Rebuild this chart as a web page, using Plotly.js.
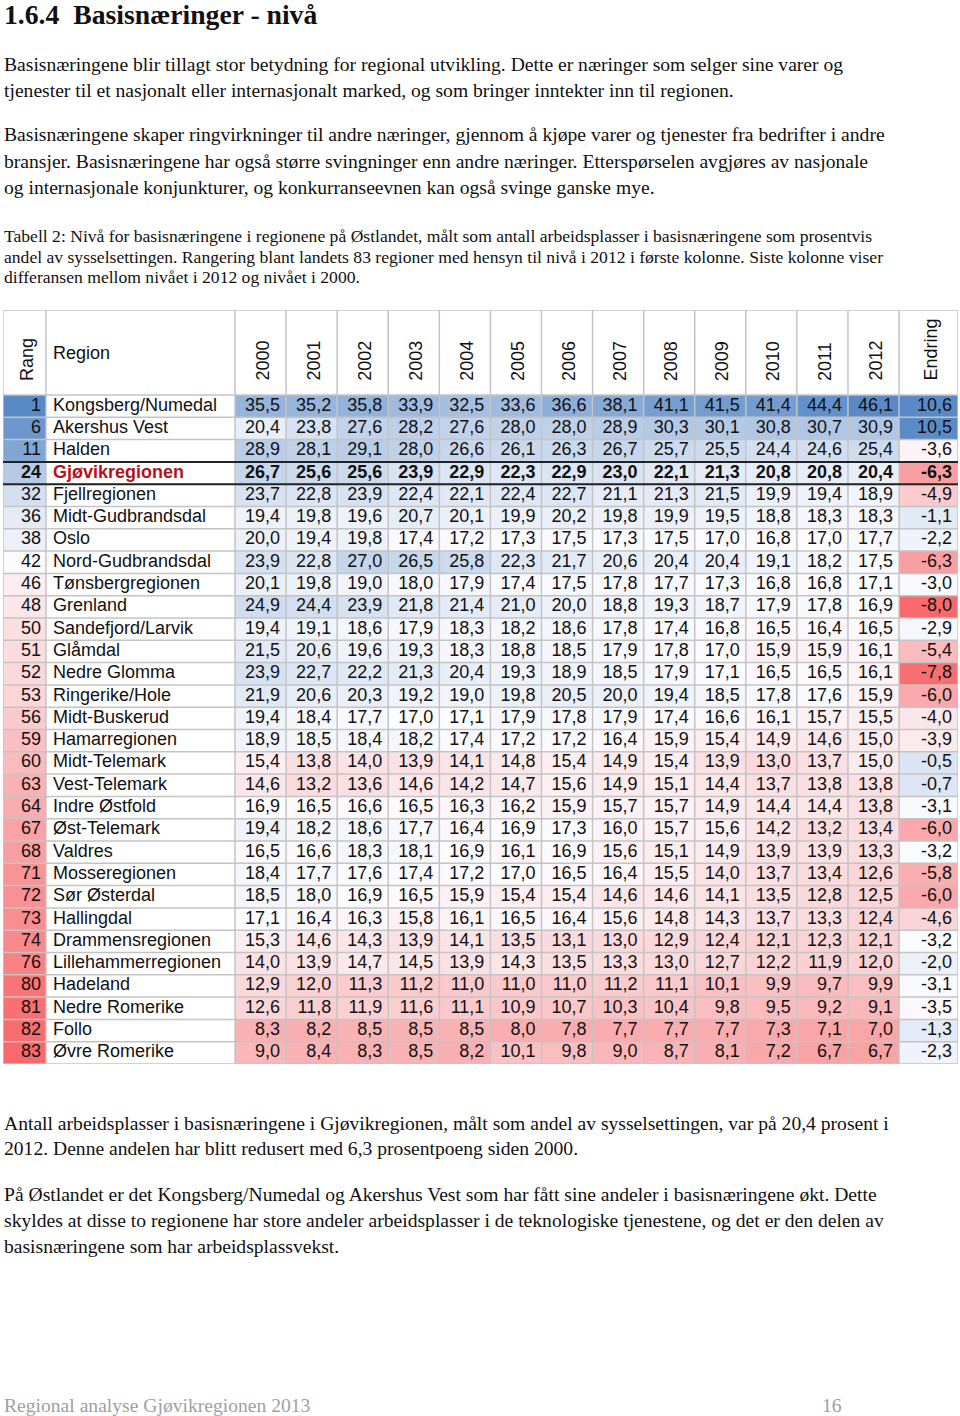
<!DOCTYPE html>
<html><head><meta charset="utf-8">
<script src="https://cdn.plot.ly/plotly-3.0.1.min.js"></script>
<style>html,body{margin:0;padding:0;background:#fff}#chart{width:960px;height:1416px}</style>
</head><body><div id="chart"></div>
<script>
// ---------------- DATA ----------------
const ranks = [1,6,11,24,32,36,38,42,46,48,50,51,52,53,56,59,60,63,64,67,68,71,72,73,74,76,80,81,82,83];
const regions = ['Kongsberg/Numedal','Akershus Vest','Halden','Gjøvikregionen','Fjellregionen','Midt-Gudbrandsdal','Oslo','Nord-Gudbrandsdal','Tønsbergregionen','Grenland','Sandefjord/Larvik','Glåmdal','Nedre Glomma','Ringerike/Hole','Midt-Buskerud','Hamarregionen','Midt-Telemark','Vest-Telemark','Indre Østfold','Øst-Telemark','Valdres','Mosseregionen','Sør Østerdal','Hallingdal','Drammensregionen','Lillehammerregionen','Hadeland','Nedre Romerike','Follo','Øvre Romerike'];
const years = ['2000','2001','2002','2003','2004','2005','2006','2007','2008','2009','2010','2011','2012'];
const v2000 = [35.5,20.4,28.9,26.7,23.7,19.4,20.0,23.9,20.1,24.9,19.4,21.5,23.9,21.9,19.4,18.9,15.4,14.6,16.9,19.4,16.5,18.4,18.5,17.1,15.3,14.0,12.9,12.6,8.3,9.0];
const v2001 = [35.2,23.8,28.1,25.6,22.8,19.8,19.4,22.8,19.8,24.4,19.1,20.6,22.7,20.6,18.4,18.5,13.8,13.2,16.5,18.2,16.6,17.7,18.0,16.4,14.6,13.9,12.0,11.8,8.2,8.4];
const v2002 = [35.8,27.6,29.1,25.6,23.9,19.6,19.8,27.0,19.0,23.9,18.6,19.6,22.2,20.3,17.7,18.4,14.0,13.6,16.6,18.6,18.3,17.6,16.9,16.3,14.3,14.7,11.3,11.9,8.5,8.3];
const v2003 = [33.9,28.2,28.0,23.9,22.4,20.7,17.4,26.5,18.0,21.8,17.9,19.3,21.3,19.2,17.0,18.2,13.9,14.6,16.5,17.7,18.1,17.4,16.5,15.8,13.9,14.5,11.2,11.6,8.5,8.5];
const v2004 = [32.5,27.6,26.6,22.9,22.1,20.1,17.2,25.8,17.9,21.4,18.3,18.3,20.4,19.0,17.1,17.4,14.1,14.2,16.3,16.4,16.9,17.2,15.9,16.1,14.1,13.9,11.0,11.1,8.5,8.2];
const v2005 = [33.6,28.0,26.1,22.3,22.4,19.9,17.3,22.3,17.4,21.0,18.2,18.8,19.3,19.8,17.9,17.2,14.8,14.7,16.2,16.9,16.1,17.0,15.4,16.5,13.5,14.3,11.0,10.9,8.0,10.1];
const v2006 = [36.6,28.0,26.3,22.9,22.7,20.2,17.5,21.7,17.5,20.0,18.6,18.5,18.9,20.5,17.8,17.2,15.4,15.6,15.9,17.3,16.9,16.5,15.4,16.4,13.1,13.5,11.0,10.7,7.8,9.8];
const v2007 = [38.1,28.9,26.7,23.0,21.1,19.8,17.3,20.6,17.8,18.8,17.8,17.9,18.5,20.0,17.9,16.4,14.9,14.9,15.7,16.0,15.6,16.4,14.6,15.6,13.0,13.3,11.2,10.3,7.7,9.0];
const v2008 = [41.1,30.3,25.7,22.1,21.3,19.9,17.5,20.4,17.7,19.3,17.4,17.8,17.9,19.4,17.4,15.9,15.4,15.1,15.7,15.7,15.1,15.5,14.6,14.8,12.9,13.0,11.1,10.4,7.7,8.7];
const v2009 = [41.5,30.1,25.5,21.3,21.5,19.5,17.0,20.4,17.3,18.7,16.8,17.0,17.1,18.5,16.6,15.4,13.9,14.4,14.9,15.6,14.9,14.0,14.1,14.3,12.4,12.7,10.1,9.8,7.7,8.1];
const v2010 = [41.4,30.8,24.4,20.8,19.9,18.8,16.8,19.1,16.8,17.9,16.5,15.9,16.5,17.8,16.1,14.9,13.0,13.7,14.4,14.2,13.9,13.7,13.5,13.7,12.1,12.2,9.9,9.5,7.3,7.2];
const v2011 = [44.4,30.7,24.6,20.8,19.4,18.3,17.0,18.2,16.8,17.8,16.4,15.9,16.5,17.6,15.7,14.6,13.7,13.8,14.4,13.2,13.9,13.4,12.8,13.3,12.3,11.9,9.7,9.2,7.1,6.7];
const v2012 = [46.1,30.9,25.4,20.4,18.9,18.3,17.7,17.5,17.1,16.9,16.5,16.1,16.1,15.9,15.5,15.0,15.0,13.8,13.8,13.4,13.3,12.6,12.5,12.4,12.1,12.0,9.9,9.1,7.0,6.7];
const endring = [10.6,10.5,-3.6,-6.3,-4.9,-1.1,-2.2,-6.3,-3.0,-8.0,-2.9,-5.4,-7.8,-6.0,-4.0,-3.9,-0.5,-0.7,-3.1,-6.0,-3.2,-5.8,-6.0,-4.6,-3.2,-2.0,-3.1,-3.5,-1.3,-2.3];
const highlight = 'Gjøvikregionen';
const nRegionsNational = 83;

const heading = '1.6.4\u00a0\u00a0Basisnæringer - nivå';
const para1 = ['Basisnæringene blir tillagt stor betydning for regional utvikling. Dette er næringer som selger sine varer og',
  'tjenester til et nasjonalt eller internasjonalt marked, og som bringer inntekter inn til regionen.'];
const para2 = ['Basisnæringene skaper ringvirkninger til andre næringer, gjennom å kjøpe varer og tjenester fra bedrifter i andre',
  'bransjer. Basisnæringene har også større svingninger enn andre næringer. Etterspørselen avgjøres av nasjonale',
  'og internasjonale konjunkturer, og konkurranseevnen kan også svinge ganske mye.'];
const caption = ['Tabell 2: Nivå for basisnæringene i regionene på Østlandet, målt som antall arbeidsplasser i basisnæringene som prosentvis',
  'andel av sysselsettingen. Rangering blant landets 83 regioner med hensyn til nivå i 2012 i første kolonne. Siste kolonne viser',
  'differansen mellom nivået i 2012 og nivået i 2000.'];
const para3 = ['Antall arbeidsplasser i basisnæringene i Gjøvikregionen, målt som andel av sysselsettingen, var på 20,4 prosent i',
  '2012. Denne andelen har blitt redusert med 6,3 prosentpoeng siden 2000.'];
const para4 = ['På Østlandet er det Kongsberg/Numedal og Akershus Vest som har fått sine andeler i basisnæringene økt. Dette',
  'skyldes at disse to regionene har store andeler arbeidsplasser i de teknologiske tjenestene, og det er den delen av',
  'basisnæringene som har arbeidsplassvekst.'];
const footerLeft = 'Regional analyse Gjøvikregionen 2013';
const footerPage = '16';

// ---------------- STYLE / LAYOUT ----------------
const W = 960, H = 1416;
const SANS = '"Liberation Sans", Arial, sans-serif';
const SERIF = '"Liberation Serif", "Times New Roman", serif';
const BLUE = '#5A8AC6', WHITE = '#FCFCFF', RED = '#F8696B';
const BODY = 19.6, CAP = 17.6;
const TABLE_LEFT = 3, TABLE_TOP = 310, HEADER_H = 85, ROW_H = 22.3;
const colWidths = [43, 189];
for (let k = 0; k < years.length; k++) colWidths.push(51.08);
colWidths.push(59);
const edges = [TABLE_LEFT];
colWidths.forEach(w => edges.push(edges[edges.length - 1] + w));
const n = regions.length;
const TABLE_BOTTOM = TABLE_TOP + HEADER_H + n * ROW_H;
const yHeadTop = -HEADER_H / ROW_H;
const rowEdges = [];
for (let i = 0; i <= n; i++) rowEdges.push(i);
const rowMid = i => i + 0.5;

const yearCols = [v2000,v2001,v2002,v2003,v2004,v2005,v2006,v2007,v2008,v2009,v2010,v2011,v2012];
const fmt = v => v.toFixed(1).replace('.', ',');
const median = arr => { const s = arr.slice().sort((a,b)=>a-b); const m = s.length/2; return s.length%2 ? s[Math.floor(m)] : (s[m-1]+s[m])/2; };
const isHi = i => regions[i] === highlight;
const b = (s, i) => isHi(i) ? '<b>' + s + '</b>' : s;

const allYear = [].concat(...yearCols);
const yMax = Math.max(...allYear), yMin = 0, yMid = median(allYear);
const eMin = Math.min(...endring), eMax = Math.max(...endring), eMid = median(endring);

const data = [];
data.push({
  type: 'heatmap', x: [edges[0], edges[1]], y: rowEdges, z: ranks.map(r => [r]),
  zmin: 1, zmax: nRegionsNational, colorscale: [[0, BLUE], [0.5, WHITE], [1, RED]],
  showscale: false, hoverinfo: 'skip'
});
data.push({
  type: 'heatmap', x: edges.slice(2, 2 + years.length + 1), y: rowEdges,
  z: regions.map((_, i) => yearCols.map(c => c[i])),
  zmin: yMin, zmax: yMax,
  colorscale: [[0, RED], [(yMid - yMin) / (yMax - yMin), WHITE], [1, BLUE]],
  showscale: false, hoverinfo: 'skip'
});
data.push({
  type: 'heatmap', x: [edges[edges.length - 2], edges[edges.length - 1]], y: rowEdges,
  z: endring.map(v => [v]), zmin: eMin, zmax: eMax,
  colorscale: [[0, RED], [(eMid - eMin) / (eMax - eMin), WHITE], [1, BLUE]],
  showscale: false, hoverinfo: 'skip'
});

const txtFont = (colors) => ({ family: SANS, size: 18, color: colors || '#111' });
data.push({
  type: 'scatter', mode: 'text', x: ranks.map(() => edges[1] - 5), y: ranks.map((_, i) => rowMid(i)),
  text: ranks.map((r, i) => b(String(r), i)), textposition: 'middle left', textfont: txtFont(), hoverinfo: 'skip'
});
data.push({
  type: 'scatter', mode: 'text', x: regions.map(() => edges[1] + 7), y: regions.map((_, i) => rowMid(i)),
  text: regions.map((r, i) => b(r, i)), textposition: 'middle right',
  textfont: txtFont(regions.map((r, i) => isHi(i) ? '#b5121b' : '#111')), hoverinfo: 'skip'
});
const yx = [], yy = [], yt = [];
yearCols.forEach((col, j) => col.forEach((v, i) => { yx.push(edges[3 + j] - 6); yy.push(rowMid(i)); yt.push(b(fmt(v), i)); }));
data.push({ type: 'scatter', mode: 'text', x: yx, y: yy, text: yt, textposition: 'middle left', textfont: txtFont(), hoverinfo: 'skip' });
data.push({
  type: 'scatter', mode: 'text', x: endring.map(() => edges[edges.length - 1] - 6), y: endring.map((_, i) => rowMid(i)),
  text: endring.map((v, i) => b(fmt(v), i)), textposition: 'middle left', textfont: txtFont(), hoverinfo: 'skip'
});

const shapes = [];
const GRID = '#c4c4c4';
edges.forEach(x => shapes.push({ type: 'line', xref: 'x', yref: 'y', x0: x, x1: x, y0: yHeadTop, y1: n, line: { color: GRID, width: 1.5 } }));
[yHeadTop].concat(rowEdges).forEach(y => shapes.push({ type: 'line', xref: 'x', yref: 'y', x0: edges[0], x1: edges[edges.length - 1], y0: y, y1: y, line: { color: GRID, width: 1.5 } }));
const hiIdx = regions.indexOf(highlight);
[hiIdx, hiIdx + 1].forEach(y => shapes.push({ type: 'line', xref: 'x', yref: 'y', x0: edges[0], x1: edges[edges.length - 1], y0: y, y1: y, line: { color: '#222', width: 2 } }));

const annotations = [];
const labelY = -(12 / ROW_H);
const headFont = { family: SANS, size: 18, color: '#111' };
annotations.push({ xref: 'x', yref: 'y', x: (edges[0] + edges[1]) / 2 + 2, y: labelY, text: 'Rang', textangle: -90, xanchor: 'center', yanchor: 'bottom', showarrow: false, font: headFont });
annotations.push({ xref: 'x', yref: 'y', x: edges[1] + 5, y: -(42 / ROW_H), text: 'Region', xanchor: 'left', yanchor: 'middle', showarrow: false, font: headFont });
years.forEach((yr, j) => annotations.push({ xref: 'x', yref: 'y', x: (edges[2 + j] + edges[3 + j]) / 2 + 2, y: labelY, text: yr, textangle: -90, xanchor: 'center', yanchor: 'bottom', showarrow: false, font: headFont }));
annotations.push({ xref: 'x', yref: 'y', x: (edges[edges.length - 2] + edges[edges.length - 1]) / 2 + 2, y: labelY, text: 'Endring', textangle: -90, xanchor: 'center', yanchor: 'bottom', showarrow: false, font: headFont });

const T = (text, xpx, ypx, size, color) => annotations.push({
  xref: 'paper', yref: 'paper', x: xpx / W, y: 1 - ypx / H, text: text, xanchor: 'left', yanchor: 'middle',
  showarrow: false, font: { family: SERIF, size: size, color: color || '#111' }
});
T('<b>' + heading + '</b>', 2, 14, 27.7);
para1.forEach((l, k) => T(l, 2, 64 + k * 26, BODY));
para2.forEach((l, k) => T(l, 2, 135 + k * 26, BODY));
caption.forEach((l, k) => T(l, 2, 236 + k * 20.5, CAP));
para3.forEach((l, k) => T(l, 2, 1123 + k * 25.5, BODY));
para4.forEach((l, k) => T(l, 2, 1194 + k * 26, BODY));
T(footerLeft, 2, 1405, BODY, '#a0a0a0');
T(footerPage, 820, 1405, BODY, '#a0a0a0');

const layout = {
  width: W, height: H, margin: { l: 0, r: 0, t: 0, b: 0, pad: 0 },
  paper_bgcolor: '#fff', plot_bgcolor: '#fff', showlegend: false,
  xaxis: { domain: [edges[0] / W, edges[edges.length - 1] / W], range: [edges[0], edges[edges.length - 1]], visible: false, fixedrange: true },
  yaxis: { domain: [1 - TABLE_BOTTOM / H, 1 - TABLE_TOP / H], range: [n, yHeadTop], visible: false, fixedrange: true },
  shapes: shapes, annotations: annotations
};
Plotly.newPlot('chart', data, layout, { staticPlot: true, displayModeBar: false });
</script></body></html>
